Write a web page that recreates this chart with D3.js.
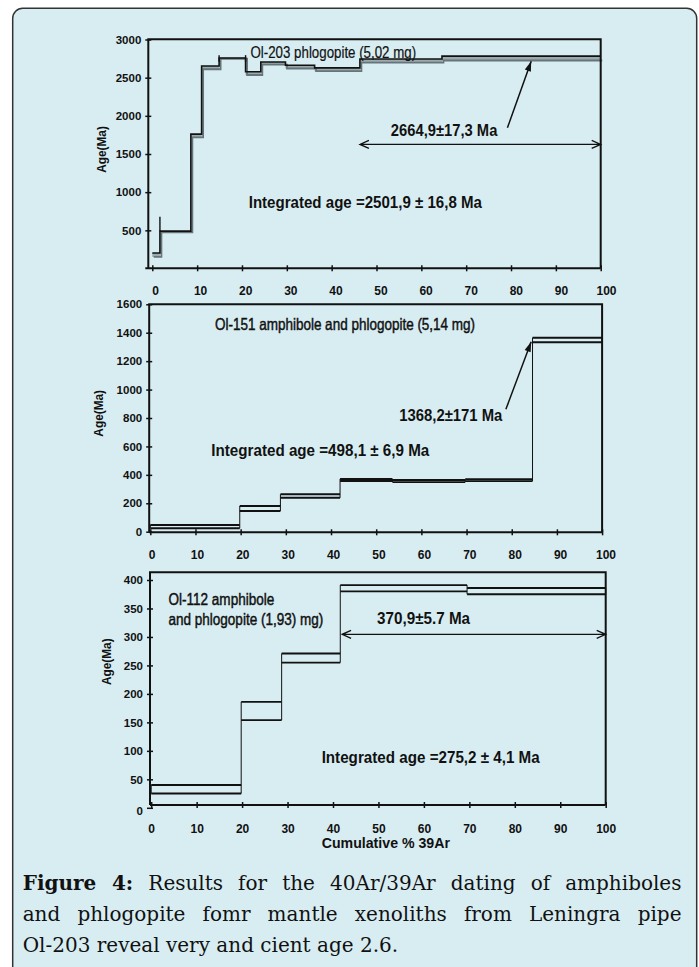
<!DOCTYPE html>
<html>
<head>
<meta charset="utf-8">
<script src="https://cdn.jsdelivr.net/npm/d3@7"></script>
<style>
  body { margin: 0; background: #fff; }
  svg text { fill: #111; }
</style>
</head>
<body>
<div id="chart"></div>
<script>
// Step edges (cumulative % 39Ar) and age bounds (Ma) of each heating step
const topEdges = [0, 1.7, 8.6, 11.0, 14.9, 20.8, 24.2, 29.7, 36.2, 46.3, 64.6, 100];
const topLow   = [152, 475, 1717, 2610, 2748, 2535, 2670, 2620, 2585, 2698, 2725];
const topHigh  = [204, 490, 1761, 2652, 2758, 2578, 2705, 2662, 2628, 2745, 2782];
const topSpike = [1.7, 490, 677];
const topCaps  = [[14.9, 2710, 2795], [20.8, 2710, 2795]];

const midEdges = [0, 19.8, 28.8, 42.0, 53.6, 69.7, 84.6, 100];
const midLow   = [24, 146, 239, 357, 349, 356, 1333];
const midHigh  = [47, 181, 263, 371, 364, 369, 1365];

const botEdges = [0, 19.8, 28.7, 41.6, 69.5, 100];
const botLow   = [25, 154, 255, 380, 375];
const botHigh  = [40, 186, 271, 391, 386];

const xTicks = d3.range(0, 101, 10);
const topYTicks = [500, 1000, 1500, 2000, 2500, 3000];
const midYTicks = d3.range(0, 1601, 200);
const botYTicks = d3.range(0, 401, 50);

const captionLines = [
    [["Figure 4:", true], [" Results for the 40Ar/39Ar dating of amphiboles", false]],
    [["and phlogopite fomr mantle xenoliths from Leningra pipe", false]],
    [["Ol-203 reveal very and cient age 2.6.", false]]
];

const W = 699, H = 967;
const INK = "#111";
const SANS = "'Liberation Sans', Arial, sans-serif";
const NARROW = "'Liberation Sans Narrow', 'Liberation Sans', Arial, sans-serif";

const svg = d3.select("#chart").append("svg")
    .attr("width", W)
    .attr("height", H);

// Figure box
svg.append("rect")
    .attr("x", 12.7).attr("y", 8.3)
    .attr("width", 684).attr("height", 990)
    .attr("rx", 10)
    .attr("fill", "#d8edf2")
    .attr("stroke", "#333")
    .attr("stroke-width", 1.5);

function label(g, txt, x, y, opts) {
    const t = g.append("text")
        .attr("x", x).attr("y", y)
        .attr("font-family", NARROW)
        .attr("font-size", opts.size)
        .attr("font-weight", opts.bold ? "bold" : "normal")
        .text(txt);
    if (opts.len) t.attr("textLength", opts.len).attr("lengthAdjust", "spacingAndGlyphs");
    if (opts.heavy) t.attr("stroke", INK).attr("stroke-width", opts.heavy);
    return t;
}

function arrow(g, x1, y1, x2, y2) {
    g.append("line")
        .attr("x1", x1).attr("y1", y1).attr("x2", x2).attr("y2", y2)
        .attr("stroke", INK).attr("stroke-width", 1.5);
    const a = Math.atan2(y2 - y1, x2 - x1), L = 10, w = 3.2;
    const bx = x2 - L * Math.cos(a), by = y2 - L * Math.sin(a);
    const nx = -Math.sin(a) * w, ny = Math.cos(a) * w;
    g.append("path")
        .attr("d", `M${x2},${y2}L${bx + nx},${by + ny}L${bx - nx},${by - ny}Z`)
        .attr("fill", INK);
}

function doubleArrow(g, xa, xb, y) {
    g.append("path")
        .attr("d", `M${xa},${y}H${xb}M${xa + 9},${y - 4}L${xa},${y}L${xa + 9},${y + 4}` +
                   `M${xb - 9},${y - 4}L${xb},${y}L${xb - 9},${y + 4}`)
        .attr("fill", "none")
        .attr("stroke", INK)
        .attr("stroke-width", 1.3);
}

function panel(p) {
    const x = d3.scaleLinear().domain([0, 100]).range(p.xRange);
    const y = d3.scaleLinear().domain(p.yDomain).range(p.yRange);
    const g = svg.append("g");
    const n = p.low.length;

    // Steps
    if (p.shaded) {
        const pts = p.low.map((v, i) => [p.edges[i], v, p.high[i]]);
        pts.push([100, p.low[n - 1], p.high[n - 1]]);
        g.append("path")
            .attr("d", d3.area().curve(d3.curveStepAfter)
                .x(d => x(d[0])).y0(d => y(d[1])).y1(d => y(d[2]))(pts))
            .attr("fill", "#9aa9ad");
        const line = d3.line().curve(d3.curveStepAfter).x(d => x(d[0])).y(d => y(d[1]));
        g.append("path")
            .attr("d", line(pts.map(d => [d[0], d[1]])))
            .attr("transform", "translate(1.5,0)")
            .attr("fill", "none").attr("stroke", "#66757a").attr("stroke-width", 1.8);
        g.append("path")
            .attr("d", line(pts.map(d => [d[0], d[2]])))
            .attr("fill", "none").attr("stroke", INK).attr("stroke-width", 1.6);
        if (p.spike) {
            g.append("line")
                .attr("x1", x(p.spike[0])).attr("x2", x(p.spike[0]))
                .attr("y1", y(p.spike[1])).attr("y2", y(p.spike[2]))
                .attr("stroke", INK).attr("stroke-width", 1.4);
        }
        (p.caps || []).forEach(c => {
            g.append("line")
                .attr("x1", x(c[0])).attr("x2", x(c[0]))
                .attr("y1", y(c[1])).attr("y2", y(c[2]))
                .attr("stroke", INK).attr("stroke-width", 1.4);
        });
    } else {
        p.low.forEach((v, i) => {
            [v, p.high[i]].forEach(val => {
                g.append("line")
                    .attr("x1", x(p.edges[i])).attr("x2", x(p.edges[i + 1]))
                    .attr("y1", y(val)).attr("y2", y(val))
                    .attr("stroke", INK).attr("stroke-width", 1.9);
            });
        });
        p.edges.forEach((e, j) => {
            const idx = [j - 1, j].filter(k => k >= 0 && k < n);
            const lo = d3.min(idx, k => p.low[k]), hi = d3.max(idx, k => p.high[k]);
            g.append("line")
                .attr("x1", x(e)).attr("x2", x(e))
                .attr("y1", y(lo)).attr("y2", y(hi))
                .attr("stroke", INK).attr("stroke-width", 1);
        });
    }

    // Frame: top and right edge, y axis and x axis lines
    g.append("path")
        .attr("d", `M${p.yAxisX},${p.axisY}V${p.frameTop}H${x(100)}V${p.axisY}`)
        .attr("fill", "none").attr("stroke", INK).attr("stroke-width", 2);
    g.append("line")
        .attr("x1", p.yAxisX - p.axisExt).attr("x2", x(100))
        .attr("y1", p.axisY).attr("y2", p.axisY)
        .attr("stroke", INK).attr("stroke-width", 2);

    // Y axis
    const ya = g.append("g")
        .attr("transform", `translate(${p.yAxisX},0)`)
        .call(d3.axisLeft(y).tickValues(p.yTicks).tickFormat(d3.format("d"))
            .tickSize(3).tickPadding(4));
    ya.select(".domain").remove();
    ya.selectAll(".tick line").attr("x1", 3).attr("x2", -3)
        .attr("stroke", INK).attr("stroke-width", 1.5);
    ya.selectAll("text")
        .attr("font-family", SANS).attr("font-size", 11.5).attr("font-weight", "bold")
        .attr("fill", INK);
    if (p.zeroShift) {
        ya.selectAll(".tick").filter(d => d === 0).select("text")
            .attr("y", p.zeroShift);
    }

    // X axis ticks
    const xa = g.append("g")
        .attr("transform", `translate(0,${p.axisY})`)
        .call(d3.axisBottom(x).tickValues(xTicks).tickSize(3).tickFormat(""));
    xa.select(".domain").remove();
    xa.selectAll(".tick line").attr("y1", -3).attr("y2", 3)
        .attr("stroke", INK).attr("stroke-width", 1.5);

    // X tick labels
    const xl = d3.scaleLinear().domain([0, 100]).range(p.labelRange);
    const la = g.append("g")
        .attr("transform", `translate(0,${p.labelY})`)
        .call(d3.axisBottom(xl).tickValues(xTicks).tickSize(0).tickPadding(0));
    la.select(".domain").remove();
    la.selectAll("text")
        .attr("y", 0).attr("dy", null)
        .attr("font-family", SANS).attr("font-size", 12).attr("font-weight", "bold")
        .attr("fill", INK);

    // Y title
    g.append("text")
        .attr("transform", `translate(${p.yTitle[0]},${p.yTitle[1]}) rotate(-90)`)
        .attr("text-anchor", "middle")
        .attr("font-family", SANS).attr("font-size", 12).attr("font-weight", "bold")
        .attr("textLength", 46.7).attr("lengthAdjust", "spacingAndGlyphs")
        .text("Age(Ma)");

    return { g, x, y };
}

// ---- Top panel: Ol-203 ----
const topP = panel({
    edges: topEdges, low: topLow, high: topHigh, spike: topSpike, caps: topCaps, shaded: true,
    xRange: [152.3, 600.7], yAxisX: 148.3, axisExt: 3,
    yDomain: [0, 3000], yRange: [268.5, 39.5], frameTop: 39.3, axisY: 268.3,
    yTicks: topYTicks, labelRange: [155, 606], labelY: 295, yTitle: [106, 149.5]
});
label(topP.g, "Ol-203 phlogopite (5,02 mg)", topP.x(21.9), topP.y(2758), { size: 16.5, len: 165.6, heavy: 0.2 });
label(topP.g, "2664,9\u00b117,3 Ma", topP.x(53.2), topP.y(1733), { size: 16.5, bold: true, len: 106.5 });
label(topP.g, "Integrated age =2501,9 \u00b1 16,8 Ma", topP.x(21.5), topP.y(795), { size: 16.5, bold: true, len: 233.2 });
arrow(topP.g, topP.x(79.2), topP.y(1843), topP.x(84.5), topP.y(2716));
doubleArrow(topP.g, topP.x(46.3), topP.x(100), topP.y(1625));

// ---- Middle panel: Ol-151 ----
const midP = panel({
    edges: midEdges, low: midLow, high: midHigh, shaded: false,
    xRange: [150.3, 602.1], yAxisX: 149.2, axisExt: 0,
    yDomain: [0, 1600], yRange: [531.7, 304.3], frameTop: 304.3, axisY: 532.3,
    yTicks: midYTicks, labelRange: [151.5, 605.5], labelY: 559, yTitle: [102.8, 413.3]
});
label(midP.g, "Ol-151 amphibole and phlogopite (5,14 mg)", midP.x(14.3), midP.y(1418), { size: 16.5, len: 260.2, heavy: 0.45 });
label(midP.g, "1368,2\u00b1171 Ma", midP.x(55.1), midP.y(780), { size: 16.5, bold: true, len: 103.1 });
label(midP.g, "Integrated age =498,1 \u00b1 6,9 Ma", midP.x(13.5), midP.y(535), { size: 16.5, bold: true, len: 218 });
arrow(midP.g, midP.x(78.7), midP.y(861), midP.x(84.3), midP.y(1337));

// ---- Bottom panel: Ol-112 ----
const botP = panel({
    edges: botEdges, low: botLow, high: botHigh, shaded: false,
    xRange: [151.2, 605.7], yAxisX: 150, axisExt: 0,
    yDomain: [0, 400], yRange: [807.8, 580], frameTop: 572.3, axisY: 805,
    yTicks: botYTicks, labelRange: [151.2, 605.7], labelY: 833.3, yTitle: [111.2, 661.7],
    zeroShift: 3
});
label(botP.g, "Ol-112 amphibole", botP.x(3.8), botP.y(356), { size: 16, len: 105.8, heavy: 0.45 });
label(botP.g, "and phlogopite (1,93) mg)", botP.x(3.8), botP.y(321), { size: 16, len: 154.8, heavy: 0.45 });
label(botP.g, "370,9\u00b15.7 Ma", botP.x(49.7), botP.y(322), { size: 16.5, bold: true, len: 93 });
label(botP.g, "Integrated age =275,2 \u00b1 4,1 Ma", botP.x(37.5), botP.y(78), { size: 16.5, bold: true, len: 218.1 });
doubleArrow(botP.g, botP.x(42), botP.x(100), botP.y(304.6));

svg.append("text")
    .attr("x", 321.7).attr("y", 848)
    .attr("font-family", NARROW).attr("font-size", 14.5).attr("font-weight", "bold")
    .attr("textLength", 128.3).attr("lengthAdjust", "spacingAndGlyphs")
    .text("Cumulative % 39Ar");

// ---- Caption (justified first two lines) ----
const capY = [890, 921, 952];
captionLines.forEach((parts, i) => {
    const t = svg.append("text")
        .attr("x", 22.7).attr("y", capY[i])
        .attr("font-family", "'DejaVu Serif', serif")
        .attr("font-size", 20);
    parts.forEach(([s, b]) => {
        t.append("tspan").attr("font-weight", b ? "bold" : "normal").text(s);
    });
    if (i < captionLines.length - 1) {
        const full = parts.map(d => d[0]).join("");
        const spaces = (full.match(/ /g) || []).length;
        const natural = t.node().getComputedTextLength();
        t.attr("word-spacing", (681.5 - 22.7 - natural) / spaces);
    }
});
</script>
</body>
</html>
